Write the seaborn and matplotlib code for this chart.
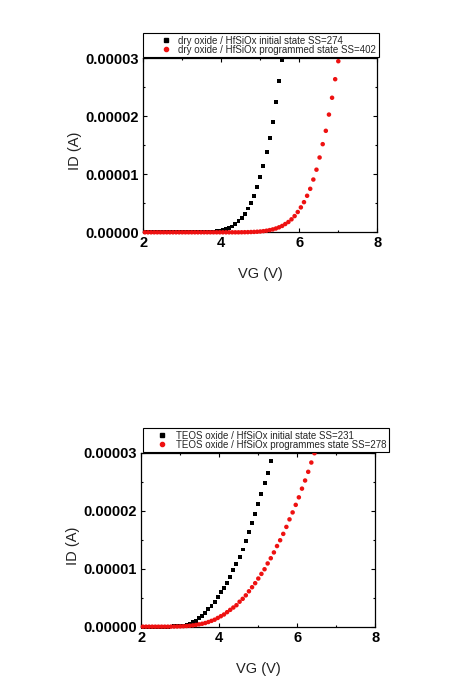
import matplotlib
matplotlib.use("Agg")
import matplotlib.pyplot as plt
from matplotlib.lines import Line2D
from matplotlib.ticker import MultipleLocator, FormatStrFormatter
import seaborn as sns
import pandas as pd

# ---------------- data ----------------
# gate-voltage sweep (V)
vg = [2.04, 2.12, 2.20, 2.28, 2.36, 2.44, 2.52, 2.60, 2.68, 2.76,
      2.84, 2.92, 3.00, 3.08, 3.16, 3.24, 3.32, 3.40, 3.48, 3.56,
      3.64, 3.72, 3.80, 3.88, 3.96, 4.04, 4.12, 4.20, 4.28, 4.36,
      4.44, 4.52, 4.60, 4.68, 4.76, 4.84, 4.92, 5.00, 5.08, 5.16,
      5.24, 5.32, 5.40, 5.48, 5.56, 5.64, 5.72, 5.80, 5.88, 5.96,
      6.04, 6.12, 6.20, 6.28, 6.36, 6.44, 6.52, 6.60, 6.68, 6.76,
      6.84, 6.92, 7.00]

# drain current, in units of 1e-5 A
dry_initial = [0, 0, 0, 0, 0, 0, 0, 0, 0, 0,
               0, 0, 0, 0, 0, 0, 0, 0, 0.001, 0.002,
               0.003, 0.005, 0.009, 0.015, 0.024, 0.036, 0.052, 0.074, 0.10, 0.14,
               0.19, 0.25, 0.32, 0.41, 0.51, 0.63, 0.78, 0.95, 1.14, 1.38,
               1.63, 1.91, 2.25, 2.61, 2.97]
dry_programmed = [0, 0, 0, 0, 0, 0, 0, 0, 0, 0,
                  0, 0, 0, 0, 0, 0, 0, 0, 0, 0,
                  0, 0, 0, 0, 0, 0, 0, 0, 0, 0,
                  0, 0.001, 0.002, 0.003, 0.005, 0.007, 0.010, 0.014, 0.020, 0.028,
                  0.038, 0.050, 0.066, 0.086, 0.11, 0.143, 0.178, 0.224, 0.28, 0.35,
                  0.43, 0.52, 0.63, 0.75, 0.91, 1.08, 1.29, 1.52, 1.75, 2.03,
                  2.32, 2.64, 2.95]
teos_initial = [0, 0, 0, 0, 0, 0, 0, 0.001, 0.002, 0.003,
                0.005, 0.008, 0.012, 0.020, 0.032, 0.050, 0.075, 0.105, 0.145, 0.19,
                0.24, 0.30, 0.36, 0.43, 0.51, 0.59, 0.67, 0.76, 0.86, 0.97,
                1.08, 1.20, 1.33, 1.47, 1.63, 1.79, 1.95, 2.12, 2.29, 2.47,
                2.65, 2.85]
teos_programmed = [0, 0, 0, 0, 0, 0, 0, 0, 0, 0.001,
                   0.002, 0.003, 0.005, 0.007, 0.011, 0.016, 0.022, 0.030, 0.040, 0.050,
                   0.063, 0.080, 0.10, 0.12, 0.15, 0.18, 0.21, 0.25, 0.29, 0.33,
                   0.37, 0.43, 0.48, 0.54, 0.61, 0.68, 0.75, 0.83, 0.91, 0.99,
                   1.09, 1.18, 1.28, 1.39, 1.49, 1.60, 1.72, 1.85, 1.97, 2.10,
                   2.23, 2.38, 2.52, 2.67, 2.83, 2.99]

top_labels = ["dry oxide / HfSiOx initial state SS=274",
              "dry oxide / HfSiOx programmed state SS=402"]
bottom_labels = ["TEOS oxide / HfSiOx initial state SS=231",
                 "TEOS oxide / HfSiOx programmes state SS=278"]
x_ticks = [2, 4, 6, 8]
y_ticks = [0.0, 1e-5, 2e-5, 3e-5]
x_label = "VG (V)"
y_label = "ID (A)"
SCALE = 1e-5

# ---------------- style ----------------
sns.set_theme(style="ticks")
plt.rcParams["font.family"] = ["Liberation Sans", "DejaVu Sans"]
plt.rcParams["axes.linewidth"] = 0.9

fig = plt.figure(figsize=(4.57, 6.91), dpi=100)
ax1 = fig.add_axes([0.3136, 0.6638, 0.512, 0.2518])
ax2 = fig.add_axes([0.3092, 0.0931, 0.512, 0.2518])


def make_df(series_a, series_b, labels):
    rows = []
    for lab, ys in zip(labels, (series_a, series_b)):
        for x, y in zip(vg[:len(ys)], ys):
            rows.append({"VG": x, "ID": y * SCALE, "series": lab})
    return pd.DataFrame(rows)


def draw(ax, series_a, series_b, labels, legend_anchor, hlen, htpad):
    df = make_df(series_a, series_b, labels)
    sns.scatterplot(data=df, x="VG", y="ID", hue="series", style="series",
                    markers={labels[0]: "s", labels[1]: "o"},
                    palette={labels[0]: "black", labels[1]: "#ee1111"},
                    size="series", sizes={labels[0]: 8, labels[1]: 10.5},
                    linewidth=0, edgecolor="none", legend=False, ax=ax,
                    clip_on=False, zorder=3)
    ax.set_xlim(2, 8)
    ax.set_ylim(0, 3e-5)
    ax.set_xticks(x_ticks)
    ax.set_yticks(y_ticks)
    ax.xaxis.set_minor_locator(MultipleLocator(1))
    ax.yaxis.set_minor_locator(MultipleLocator(0.5e-5))
    ax.yaxis.set_major_formatter(FormatStrFormatter("%.5f"))
    ax.xaxis.set_major_formatter(FormatStrFormatter("%d"))
    ax.tick_params(which="both", direction="in", top=True, right=True,
                   colors="black", width=0.8)
    ax.tick_params(which="major", length=3.0, labelsize=10.5, pad=3)
    ax.tick_params(which="minor", length=1.6)
    for lab in ax.get_xticklabels() + ax.get_yticklabels():
        lab.set_fontweight("bold")
    for sp in ax.spines.values():
        sp.set_color("black")
        sp.set_visible(True)
    ax.set_xlabel(x_label, fontsize=10.5, color="#222222", labelpad=12)
    ax.set_ylabel(y_label, fontsize=10.5, color="#222222")
    ax.yaxis.set_label_coords(-0.26, 0.467)

    handles = [Line2D([], [], marker="s", color="black", linestyle="none",
                      markersize=2.6),
               Line2D([], [], marker="o", color="#ee1111", linestyle="none",
                      markersize=3.0)]
    leg = fig.legend(handles, labels, loc="lower left",
                     bbox_to_anchor=legend_anchor, bbox_transform=fig.transFigure,
                     fontsize=7, frameon=True, fancybox=False, framealpha=1,
                     edgecolor="black", borderpad=0.25, labelspacing=-0.1,
                     handlelength=hlen, handletextpad=htpad, borderaxespad=0)
    leg.get_frame().set_linewidth(0.8)
    return leg


draw(ax1, dry_initial, dry_programmed, top_labels, (0.3129, 0.9175), 4.3, -0.9)
draw(ax2, teos_initial, teos_programmed, bottom_labels, (0.3129, 0.3454), 3.5, -0.38)

fig.savefig("out.png", dpi=100, facecolor="white")
